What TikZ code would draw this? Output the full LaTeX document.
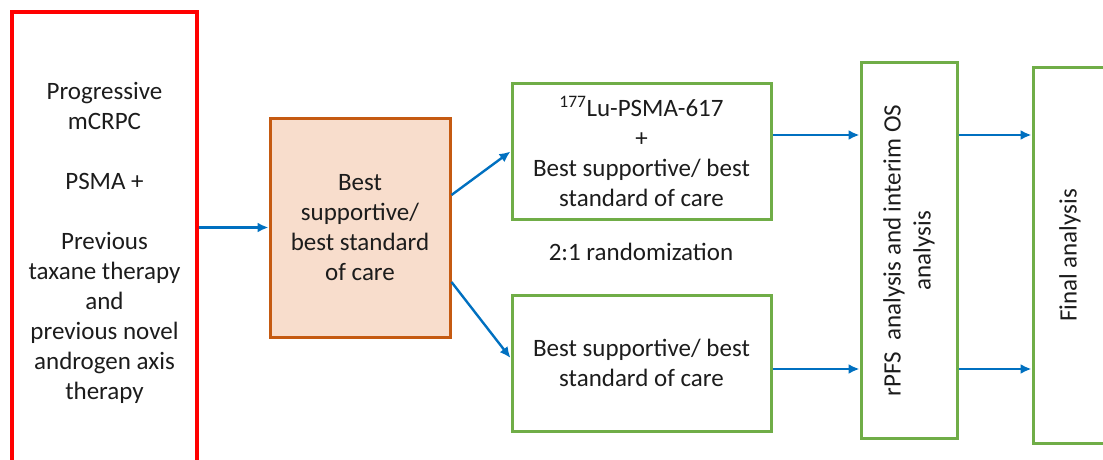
\documentclass[tikz,border=0pt]{standalone}
\usepackage{fontspec}
\setmainfont{Carlito}
\usetikzlibrary{positioning,arrows.meta}
\definecolor{redline}{HTML}{FF0000}
\definecolor{careline}{HTML}{C55A11}
\definecolor{carefill}{HTML}{F8DDCC}
\definecolor{armline}{HTML}{70AD47}
\definecolor{flowblue}{HTML}{0070C0}
\definecolor{txtgray}{HTML}{1C1C1C}
\begin{document}
\begin{tikzpicture}[x=1pt,y=1pt,
  every node/.style={font=\fontsize{25}{30}\selectfont, text=txtgray, align=center},
  patientbox/.style={draw=redline, line width=3.5pt, inner sep=0pt},
  carebox/.style={draw=careline, fill=carefill, line width=3pt, inner sep=0pt},
  armbox/.style={draw=armline, line width=3pt, inner sep=0pt},
  flow/.style={draw=flowblue, line width=2.4pt, -{Latex[length=11pt,width=10pt]}}]
\useasboundingbox (0,0) rectangle (1103,459);
\clip (0,0) rectangle (1103,459);

% boxes
\node[patientbox, minimum width=185pt, minimum height=462pt] (patients) at (104.5,216)
  {Progressive\\mCRPC\\[30pt]PSMA +\\[30pt]Previous\\taxane therapy\\and\\previous novel\\androgen axis\\therapy};
\node[carebox, minimum width=180pt, minimum height=219pt] (care) at (360,231.5)
  {Best\\supportive/\\best standard\\of care};
\node[armbox, minimum width=259pt, minimum height=135pt] (armA) at (641.5,307.5)
  {\textsuperscript{177}Lu-PSMA-617\\+\\Best supportive/ best\\standard of care};
\node[armbox, minimum width=259pt, minimum height=136pt] (armB) at (641.5,96)
  {Best supportive/ best\\standard of care};
\node (ratio) at (641,207) {2:1 randomization};
\node[armbox, minimum width=96pt, minimum height=375pt,
  label={[rotate=90]center:rPFS\ \ analysis and interim OS\\analysis}] (interim) at (909,208.5) {};
\node[armbox, minimum width=74pt, minimum height=375pt,
  label={[rotate=90]center:Final analysis}] (final) at (1070,203.5) {};

% arrows
\coordinate (upper) at (0,324);
\coordinate (lower) at (0,90);
\draw[flow] (patients.east |- care.west) -- (care.west);
\draw[flow] ([yshift=32.5pt]care.east) -- (armA.west);
\draw[flow] ([yshift=-54.5pt]care.east) -- ([yshift=5pt]armB.west);
\draw[flow] (armA.east |- upper) -- (interim.west |- upper);
\draw[flow] (armB.east |- lower) -- (interim.west |- lower);
\draw[flow] (interim.east |- upper) -- (final.west |- upper);
\draw[flow] (interim.east |- lower) -- (final.west |- lower);
\end{tikzpicture}
\end{document}
